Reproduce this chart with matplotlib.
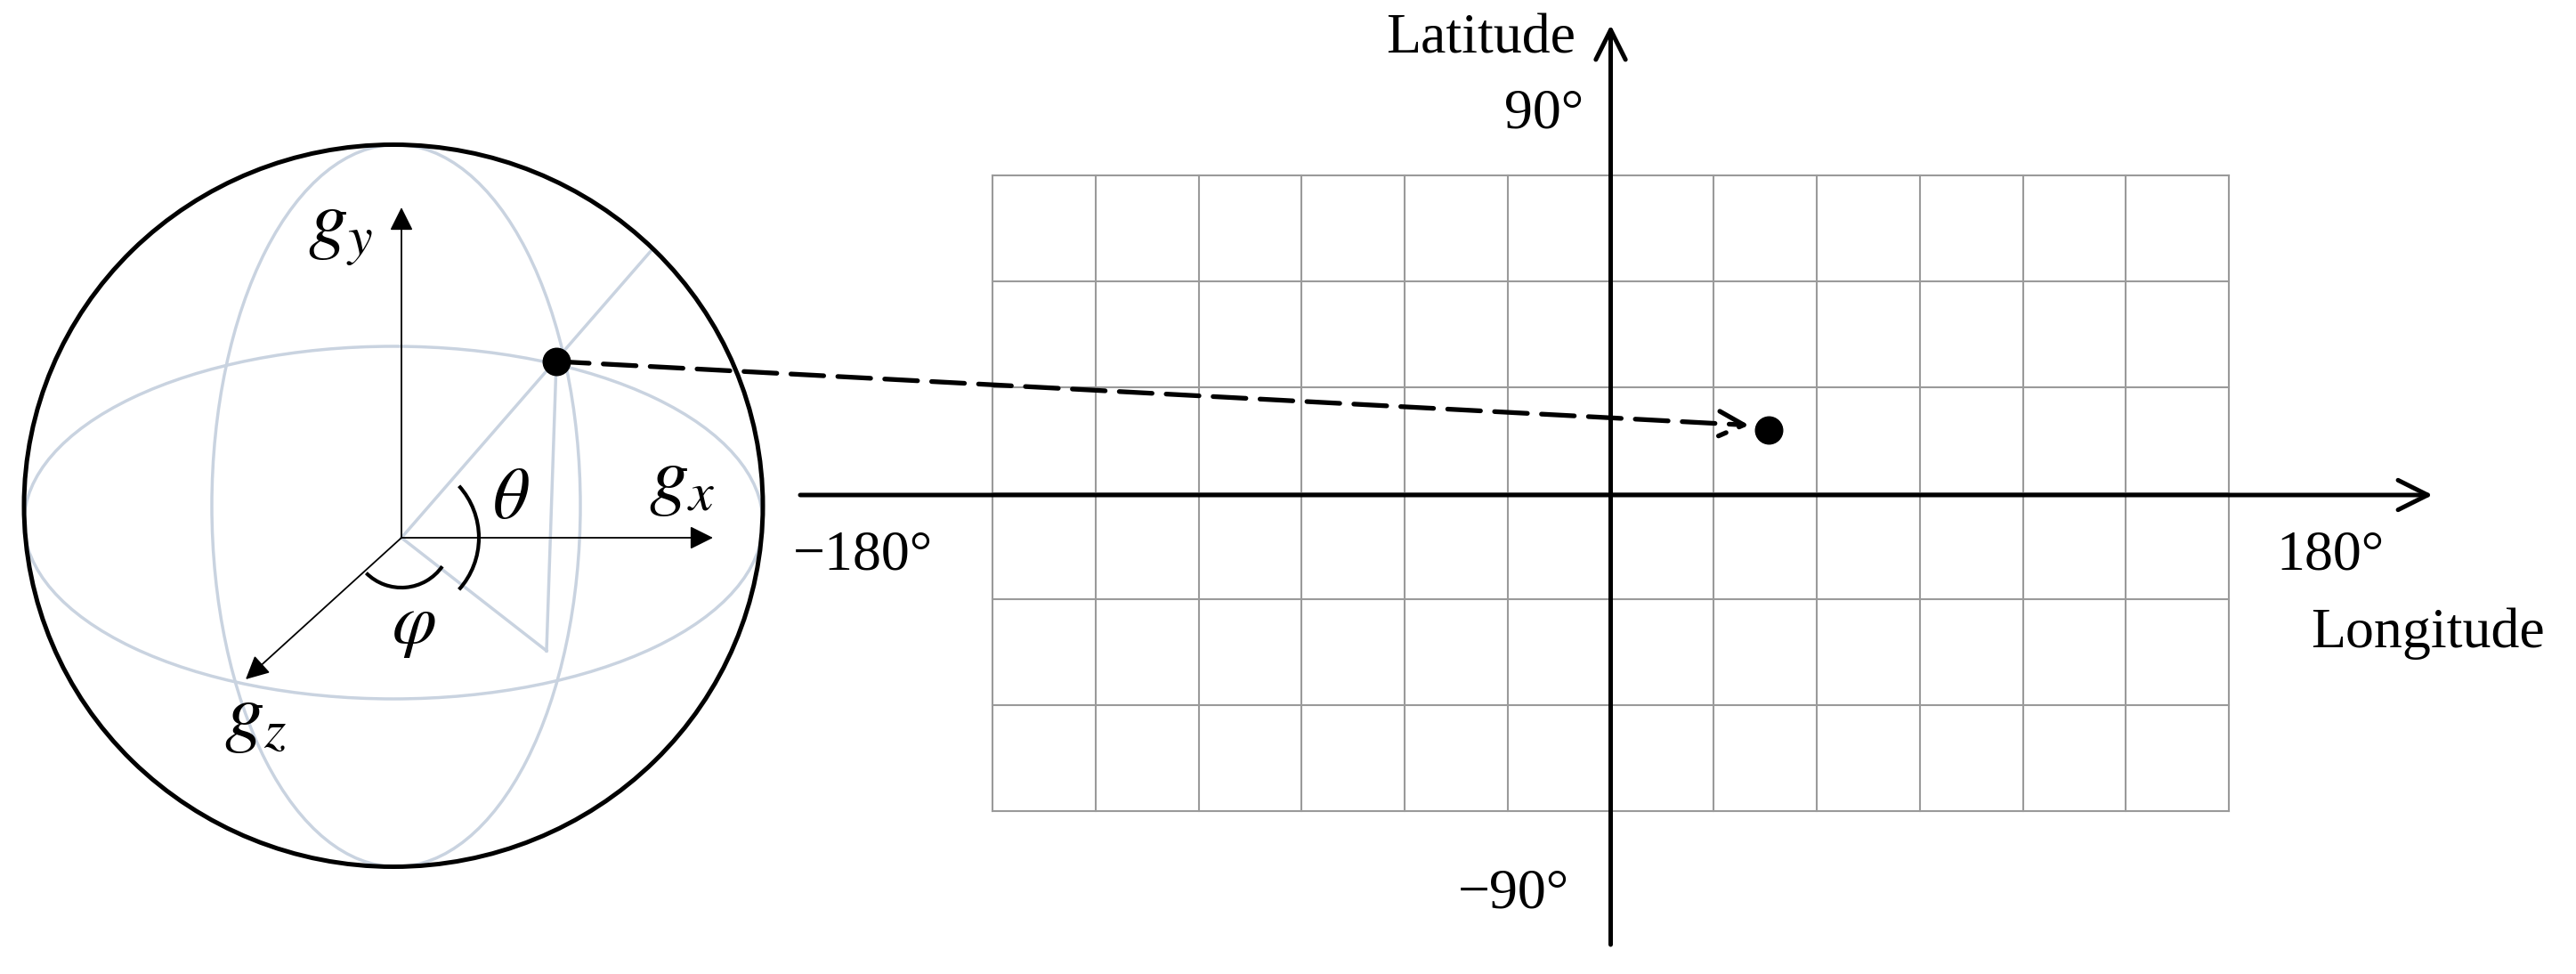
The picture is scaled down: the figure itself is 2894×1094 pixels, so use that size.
import numpy as np
import matplotlib.pyplot as plt
from matplotlib.patches import Ellipse, Arc, FancyArrowPatch

plt.rcParams['mathtext.fontset'] = 'stix'
serif = 'Liberation Serif'

# map data
lon_lines = np.arange(-180, 181, 30)
lat_lines = np.arange(-90, 91, 30)
lon_labels = ['\u2212180\u00b0', '180\u00b0']
lat_labels = ['90\u00b0', '\u221290\u00b0']
point_lon, point_lat = 46, 18

# map placement in pixels
gx0, gx1, gy0, gy1 = 1115, 2504, 911, 197
def mx(lon):
    return gx0 + (lon + 180) / 360 * (gx1 - gx0)
def my(lat):
    return gy0 + (lat + 90) / 180 * (gy1 - gy0)

fig = plt.figure(figsize=(28.94, 10.94), dpi=100)
ax = fig.add_axes([0, 0, 1, 1])
ax.set_xlim(0, 2894)
ax.set_ylim(1094, 0)
ax.axis('off')

# sphere
light = '#c9d3e0'
ax.add_patch(Ellipse((442, 568), 830, 811, fill=False, ec='black', lw=3.6, zorder=3))
ax.add_patch(Ellipse((442, 587), 830, 396, fill=False, ec=light, lw=2.5))
ax.add_patch(Ellipse((445, 568), 414, 811, fill=False, ec=light, lw=2.5))
o = (451, 604)
p = (625, 406)
foot = (614, 731)
ax.plot([o[0], 732], [o[1], 281], color=light, lw=2.5)
ax.plot([p[0], foot[0]], [p[1], foot[1]], color=light, lw=2.5)
ax.plot([o[0], foot[0]], [o[1], foot[1]], color=light, lw=2.5)

def arrow(a, b, lw, ms, style='-|>'):
    ax.add_patch(FancyArrowPatch(a, b, arrowstyle=style, mutation_scale=ms, lw=lw,
                                 color='black', shrinkA=0, shrinkB=0, zorder=4))
arrow(o, (451, 233), 1.3, 40)
arrow(o, (801, 604), 1.3, 40)
arrow(o, (276, 763), 1.3, 40)

ax.add_patch(Arc(o, 174, 174, theta1=-42, theta2=42, lw=3, color='black', zorder=4))
ax.add_patch(Arc(o, 112, 112, theta1=35, theta2=135, lw=3, color='black', zorder=4))

ax.text(382, 259, r'$g_y$', fontsize=64, ha='center', va='center')
ax.text(766, 538, r'$g_x$', fontsize=64, ha='center', va='center')
ax.text(287, 804, r'$g_z$', fontsize=64, ha='center', va='center')
ax.text(574, 560, r'$\theta$', fontsize=58, ha='center', va='center')
ax.text(465, 702, r'$\varphi$', fontsize=58, ha='center', va='center')

# map grid
for lon in lon_lines:
    ax.plot([mx(lon), mx(lon)], [my(-90), my(90)], color='#9a9a9a', lw=1.5)
for lat in lat_lines:
    ax.plot([mx(-180), mx(180)], [my(lat), my(lat)], color='#9a9a9a', lw=1.5)

# axes of the map
arrow((899, 556), (2733, 556), 3.6, 60, style='->')
arrow((mx(0), 1061), (mx(0), 28), 3.6, 60, style='->')

# points and dashed link
ax.plot(*p, 'o', color='black', ms=22, zorder=5)
ax.plot(mx(point_lon), my(point_lat), 'o', color='black', ms=22, zorder=5)
ax.add_patch(FancyArrowPatch(p, (mx(point_lon) - 22, my(point_lat) - 5), arrowstyle='->',
                             mutation_scale=50, lw=3.8, ls=(0, (7, 3)), color='black',
                             shrinkA=0, shrinkB=0, zorder=4))

fs = 46
ax.text(1664, 45, 'Latitude', fontsize=fs, family=serif, ha='center', va='center')
ax.text(1735, 128, lat_labels[0], fontsize=fs, family=serif, ha='center', va='center')
ax.text(1700, 1005, lat_labels[1], fontsize=fs, family=serif, ha='center', va='center')
ax.text(969, 625, lon_labels[0], fontsize=fs, family=serif, ha='center', va='center')
ax.text(2618, 625, lon_labels[1], fontsize=fs, family=serif, ha='center', va='center')
ax.text(2727, 712, 'Longitude', fontsize=fs, family=serif, ha='center', va='center')

fig.savefig('out.png', dpi=100)
